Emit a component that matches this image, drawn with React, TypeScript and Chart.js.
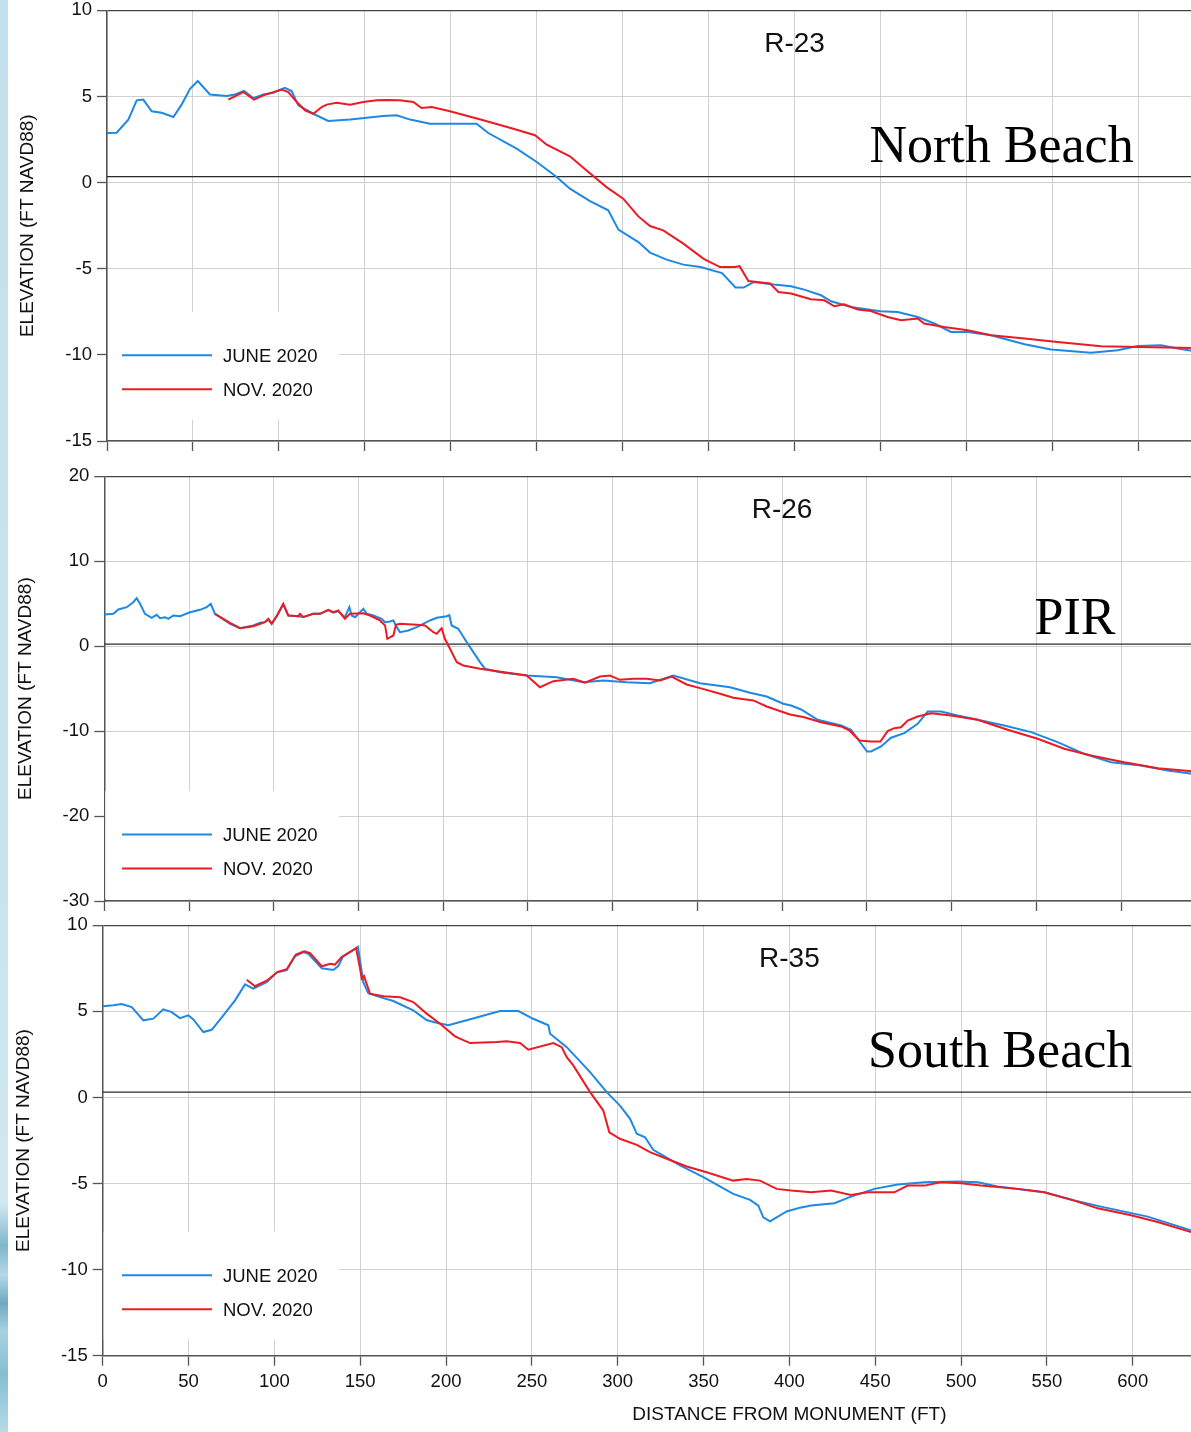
import React, { useEffect, useRef } from "react";
import { Chart, registerables } from "chart.js";

Chart.register(...registerables);

type Pt = [number, number];

// ---------- chart values ----------
const SERIES_LABELS = ["JUNE 2020", "NOV. 2020"];
const SERIES_COLORS = ["#1e88e5", "#ec1b23"];
const PROFILE_NAMES = ["R-23", "R-26", "R-35"];
const BEACH_NAMES = ["North Beach", "PIR", "South Beach"];
const REF_LEVELS = [0.35, 0.25, 0.31];
const Y_MIN = [-15, -30, -15];
const Y_MAX = [10, 20, 10];
const Y_STEP = [5, 10, 5];
const X_MIN = 0;
const X_MAX = 800;
const X_STEP = 50;
const NAME_AT = 400;
const Y_TITLE = "ELEVATION (FT NAVD88)";
const X_TITLE = "DISTANCE FROM MONUMENT (FT)";

const R23_JUNE: Pt[] = [
  [0, 2.88], [5.6, 2.9], [12.4, 3.66], [17.3, 4.78], [21.1, 4.82], [26, 4.14], [31.8, 4.06],
  [38.6, 3.81], [43.4, 4.53], [48.3, 5.45], [52.8, 5.9], [59.9, 5.12], [69.6, 5.03], [74.5, 5.12],
  [79.7, 5.32], [85.1, 4.91], [90.9, 5.12], [96.7, 5.22], [103.5, 5.51], [107.4, 5.32], [111.3, 4.49],
  [120, 4.0], [128.7, 3.58], [141.4, 3.67], [160.7, 3.87], [168.5, 3.91], [176.3, 3.66], [187.9, 3.42],
  [199.5, 3.42], [215, 3.42], [221.8, 2.88], [238.3, 1.97], [250, 1.2], [261.6, 0.33], [269.3, -0.35],
  [281, -1.07], [291.6, -1.61], [297.5, -2.73], [309.1, -3.45], [315.9, -4.06], [325.6, -4.47],
  [335.3, -4.76], [345.2, -4.9], [357.8, -5.25], [365.6, -6.09], [370.4, -6.09], [376.2, -5.77],
  [387.9, -5.92], [397.9, -6.02], [405.6, -6.21], [415.4, -6.54], [421.2, -6.89], [432.8, -7.22],
  [449.9, -7.47], [460, -7.51], [471.6, -7.8], [481.3, -8.18], [491, -8.67], [500.7, -8.67],
  [514.3, -8.86], [533.8, -9.38], [549.2, -9.69], [572.4, -9.87], [588, -9.73], [599.6, -9.48],
  [613.2, -9.44], [622.9, -9.63], [632, -9.78],
];
const R23_NOV: Pt[] = [
  [70.6, 4.82], [79.3, 5.26], [85.5, 4.82], [90.9, 5.07], [101.6, 5.4], [105.5, 5.26], [110.4, 4.68],
  [115.2, 4.2], [120, 4.0], [124.9, 4.39], [127.8, 4.53], [133.6, 4.64], [141.4, 4.53], [149.1, 4.68],
  [156.9, 4.78], [162.7, 4.8], [170.4, 4.78], [178.2, 4.68], [183, 4.33], [188.9, 4.39], [199.5, 4.14],
  [218.9, 3.62], [236.4, 3.13], [249, 2.75], [255.8, 2.2], [269.3, 1.53], [279, 0.71], [290.6, -0.26],
  [300.3, -0.93], [309.1, -1.96], [315.9, -2.52], [323.6, -2.77], [335.3, -3.54], [346.9, -4.41],
  [356.6, -4.9], [365.3, -4.9], [368, -4.85], [373.1, -5.71], [385.7, -5.86], [390.6, -6.35],
  [397.9, -6.44], [409.5, -6.77], [417.3, -6.83], [423.1, -7.18], [428.9, -7.06], [436.7, -7.37],
  [444.4, -7.45], [454.1, -7.8], [461.9, -7.99], [471.6, -7.89], [475.4, -8.18], [487, -8.38],
  [500.7, -8.57], [514.3, -8.86], [533.8, -9.05], [553, -9.25], [578.3, -9.5], [599.6, -9.54],
  [632, -9.6],
];
const R26_JUNE: Pt[] = [
  [0, 3.73], [5.3, 3.81], [8.3, 4.32], [13.2, 4.59], [17.1, 5.18], [19.1, 5.65], [21.1, 4.99],
  [24, 3.81], [28, 3.34], [30.9, 3.69], [32.9, 3.3], [35.8, 3.41], [37.8, 3.22], [40.7, 3.61],
  [44.7, 3.53], [50.6, 4.0], [56.5, 4.28], [60.4, 4.59], [62.8, 4.99], [65.3, 3.81], [74.2, 2.64],
  [80.1, 2.12], [87.9, 2.44], [91.9, 2.75], [94.8, 2.83], [96.8, 3.1], [98.8, 2.7], [101.7, 3.5],
  [105.6, 4.9], [108.6, 3.6], [114.5, 3.53], [117.4, 3.45], [123.3, 3.81], [127.3, 3.81],
  [132.2, 4.25], [135.1, 3.95], [138.1, 4.1], [142, 3.4], [144.6, 4.59], [146, 3.61], [148, 3.41],
  [152.9, 4.4], [154.9, 3.81], [158.8, 3.61], [163.7, 3.22], [165.7, 2.83], [168.6, 2.91],
  [170.6, 3.03], [172.6, 2.24], [174.5, 1.65], [179.4, 1.85], [184.4, 2.24], [192.2, 3.03],
  [196.2, 3.34], [202.1, 3.53], [203.6, 3.65], [205, 2.44], [208.9, 2.05], [213.9, 0.47],
  [221.7, -1.88], [224.7, -2.66], [233.5, -3.06], [249.3, -3.45], [267, -3.65], [282.7, -4.24],
  [294.5, -4.04], [308.3, -4.24], [322, -4.36], [335.8, -3.45], [351.6, -4.36], [369.3, -4.83],
  [381.1, -5.49], [390.9, -5.92], [400.7, -6.78], [405.3, -6.98], [411.2, -7.45], [421, -8.67],
  [434.8, -9.34], [440.7, -9.85], [444.6, -10.9], [450.1, -12.4], [452.5, -12.4], [458.4, -11.8],
  [464.3, -10.78], [472.1, -10.24], [480, -9.14], [485.9, -7.69], [493.8, -7.69], [503.6, -8.16],
  [515.4, -8.67], [531.1, -9.34], [547, -10.12], [562.6, -11.3], [578.3, -12.67], [594.1, -13.66],
  [611.8, -14.05], [627.5, -14.63], [642, -15.02],
];
const R26_NOV: Pt[] = [
  [65.3, 3.81], [74.2, 2.75], [80.1, 2.12], [87.9, 2.35], [94.8, 2.83], [96.8, 3.22], [98.8, 2.63],
  [101.7, 3.53], [105.6, 4.99], [108.6, 3.61], [114.5, 3.53], [115.5, 3.81], [117.4, 3.41],
  [123.3, 3.81], [127.3, 3.81], [132.2, 4.28], [135.1, 4.0], [138.1, 4.2], [142, 3.22], [145, 3.81],
  [152.9, 3.88], [156.8, 3.61], [162.7, 3.03], [165.7, 2.44], [167, 0.87], [170.6, 1.26],
  [172.1, 2.52], [174.5, 2.63], [184.4, 2.52], [189.3, 2.44], [194.2, 1.65], [196.2, 1.46],
  [199.1, 2.12], [201, 0.87], [204, -0.31], [208, -1.88], [211.9, -2.27], [221.7, -2.66],
  [249.3, -3.45], [257.1, -4.83], [265, -4.12], [276.8, -3.84], [283.7, -4.31], [292.5, -3.57],
  [298.4, -3.45], [304.3, -3.96], [312.2, -3.84], [320.1, -3.84], [328, -4.04], [334.8, -3.57],
  [343.7, -4.51], [351.6, -4.94], [363.4, -5.6], [371.2, -6.08], [383, -6.39], [390.9, -7.1],
  [404.7, -8.04], [413.1, -8.36], [423, -8.95], [434.8, -9.45], [439.7, -9.92], [445.6, -11.1],
  [452.5, -11.22], [458, -11.22], [462.3, -10.0], [466.2, -9.65], [470.2, -9.54], [474.1, -8.75],
  [480, -8.28], [487.9, -7.89], [499.7, -8.16], [515.4, -8.67], [533.1, -9.84], [550.8, -10.9],
  [566.5, -12.08], [582.3, -12.87], [601.9, -13.66], [621.7, -14.36], [642, -14.72],
];
const R35_JUNE: Pt[] = [
  [0, 5.3], [6.2, 5.35], [11.1, 5.43], [16.9, 5.25], [23.7, 4.48], [29.5, 4.58], [35.3, 5.12],
  [40.2, 4.96], [45, 4.61], [49.9, 4.77], [52.8, 4.53], [58.6, 3.8], [63.5, 3.93], [70.3, 4.77],
  [77.1, 5.64], [82.9, 6.57], [87.7, 6.32], [95.5, 6.7], [101.4, 7.25], [107.2, 7.4], [112, 8.2],
  [116.9, 8.45], [119.8, 8.35], [127.6, 7.5], [134.3, 7.4], [137.2, 7.63], [139.8, 8.16], [148, 8.68],
  [148.7, 8.74], [151.8, 6.7], [154.7, 6.05], [161.5, 5.83], [169.3, 5.6], [180.9, 5.06],
  [188.7, 4.5], [192.6, 4.38], [201.3, 4.19], [212, 4.48], [231.4, 5.02], [242.1, 5.02],
  [250.8, 4.57], [259.6, 4.19], [260.6, 3.7], [270.3, 2.92], [283.9, 1.47], [293.6, 0.31],
  [301.3, -0.47], [307.2, -1.24], [311.1, -2.11], [315.9, -2.31], [320.7, -3.04], [336.3, -3.95],
  [349.9, -4.63], [367.3, -5.6], [377.1, -5.95], [381.9, -6.28], [384.8, -6.96], [388.7, -7.19],
  [398.4, -6.62], [406.2, -6.4], [412.6, -6.28], [426.2, -6.14], [435.9, -5.76], [449.5, -5.31],
  [463.1, -5.06], [478.6, -4.92], [498, -4.88], [509.7, -4.92], [521.3, -5.17], [548.5, -5.51],
  [566, -5.99], [581.5, -6.34], [608.7, -6.92], [635, -7.75],
];
const R35_NOV: Pt[] = [
  [83.9, 6.84], [88.7, 6.46], [95.5, 6.78], [101.9, 7.3], [107.2, 7.45], [112.5, 8.3], [117.4, 8.49],
  [120.8, 8.38], [127.6, 7.62], [132.4, 7.77], [135.3, 7.72], [139.2, 8.16], [147.6, 8.68],
  [149.9, 7.48], [150.9, 6.9], [152.2, 7.05], [153.4, 6.7], [155.7, 6.03], [163.5, 5.88],
  [173.2, 5.82], [180.9, 5.54], [188.7, 4.87], [196.5, 4.28], [205.2, 3.55], [214, 3.16],
  [229.5, 3.22], [235.3, 3.27], [243.1, 3.16], [247.9, 2.77], [262.5, 3.16], [267.4, 2.92],
  [270.3, 2.34], [274.1, 1.86], [283.9, 0.31], [291.6, -0.76], [295.1, -2.02], [301.3, -2.4],
  [311.1, -2.75], [318.8, -3.18], [328.5, -3.56], [340.2, -4.01], [351.8, -4.34], [367.3, -4.83],
  [375.1, -4.73], [382.9, -4.83], [392.6, -5.31], [401, -5.41], [412.6, -5.51], [424.2, -5.41],
  [435.9, -5.66], [445.6, -5.51], [461.1, -5.51], [468.9, -5.12], [478.6, -5.12], [488.3, -4.92],
  [500, -4.98], [511.6, -5.12], [533, -5.31], [548.5, -5.51], [566, -5.99], [579.6, -6.44],
  [599, -6.84], [614.5, -7.23], [635, -7.85],
];

const JUNE = [R23_JUNE, R26_JUNE, R35_JUNE];
const NOV = [R23_NOV, R26_NOV, R35_NOV];

// ---------- layout (page pixels) ----------
const SANS = "'Liberation Sans', Arial, Helvetica, sans-serif";
const SERIF = "'Liberation Serif', 'Times New Roman', serif";
const PAGE_W = 1191;
const PAGE_H = 1432;

const LAYOUT = [
  { canvasTop: -10, canvasBottom: 462, left: 107, top: 10.4, bottom: 441, right: 1482.2, yTitleX: 27.5, legendTop: 129.3, overlayX: 869.4, overlayBaseline: 162, showX: false },
  { canvasTop: 455, canvasBottom: 925, left: 104.3, top: 476.3, bottom: 901, right: 1459.9, yTitleX: 25.8, legendTop: 110, overlayX: 1034.5, overlayBaseline: 634, showX: false },
  { canvasTop: 905, canvasBottom: 1432, left: 102.7, top: 925.3, bottom: 1355.7, right: 1476.1, yTitleX: 23.8, legendTop: 124, overlayX: 868, overlayBaseline: 1067.3, showX: true },
];

const LEGEND = { sampleX0: 122, sampleX1: 212, textX: 223, boxRight: 339, boxH: 108, row0: 43.5, rowGap: 34 };

function makeDecor(idx: number) {
  const L = LAYOUT[idx];
  return {
    id: "decor" + idx,
    beforeDatasetsDraw(chart: any) {
      const { ctx, chartArea } = chart;
      const top = chartArea.bottom - L.legendTop;
      const bottom = Math.min(top + LEGEND.boxH, chartArea.bottom - 1);
      ctx.save();
      ctx.fillStyle = "#ffffff";
      ctx.fillRect(chartArea.left + 1, top, LEGEND.boxRight - chartArea.left - 1, bottom - top);
      ctx.restore();
    },
    afterDraw(chart: any) {
      const { ctx, chartArea, scales } = chart;
      const top = chartArea.bottom - L.legendTop;
      ctx.save();
      SERIES_LABELS.forEach((text, i) => {
        const y = top + LEGEND.row0 + i * LEGEND.rowGap;
        ctx.strokeStyle = SERIES_COLORS[i];
        ctx.lineWidth = 2;
        ctx.beginPath();
        ctx.moveTo(LEGEND.sampleX0, y);
        ctx.lineTo(LEGEND.sampleX1, y);
        ctx.stroke();
        ctx.fillStyle = "#111";
        ctx.font = `18.5px ${SANS}`;
        ctx.textAlign = "left";
        ctx.textBaseline = "alphabetic";
        ctx.fillText(text, LEGEND.textX, y + 6.6);
      });
      ctx.fillStyle = "#111";
      ctx.font = `28px ${SANS}`;
      ctx.textAlign = "center";
      ctx.textBaseline = "alphabetic";
      ctx.fillText(PROFILE_NAMES[idx], scales.x.getPixelForValue(NAME_AT), chartArea.top + 42);
      ctx.fillStyle = "#000";
      ctx.font = `52px ${SERIF}`;
      ctx.textAlign = "left";
      ctx.fillText(BEACH_NAMES[idx], L.overlayX, L.overlayBaseline - L.canvasTop);
      ctx.restore();
    },
  };
}

function Panel({ idx }: { idx: number }) {
  const ref = useRef<HTMLCanvasElement | null>(null);
  const L = LAYOUT[idx];
  const width = Math.round(L.right) + 40;
  const height = L.canvasBottom - L.canvasTop;

  useEffect(() => {
    if (!ref.current) return;
    const yMax = Y_MAX[idx];
    const xHeight = height - (L.bottom - L.canvasTop);
    const chart = new Chart(ref.current, {
      type: "line",
      data: {
        datasets: [
          {
            label: SERIES_LABELS[1],
            data: NOV[idx].map(([x, y]) => ({ x, y })),
            borderColor: SERIES_COLORS[1],
            backgroundColor: SERIES_COLORS[1],
            borderWidth: 2,
            pointRadius: 0,
            tension: 0,
            order: 0,
          },
          {
            label: SERIES_LABELS[0],
            data: JUNE[idx].map(([x, y]) => ({ x, y })),
            borderColor: SERIES_COLORS[0],
            backgroundColor: SERIES_COLORS[0],
            borderWidth: 2,
            pointRadius: 0,
            tension: 0,
            order: 1,
          },
          {
            label: "",
            data: [
              { x: X_MIN, y: REF_LEVELS[idx] },
              { x: X_MAX, y: REF_LEVELS[idx] },
            ],
            borderColor: "#2a2a2a",
            borderWidth: 1.2,
            pointRadius: 0,
            order: 2,
          },
        ],
      },
      options: {
        animation: false,
        responsive: false,
        maintainAspectRatio: false,
        devicePixelRatio: 1,
        events: [],
        layout: {
          padding: { left: 0, top: L.top - L.canvasTop, right: width - L.right, bottom: 0 },
        },
        plugins: {
          legend: { display: false },
          tooltip: { enabled: false },
          title: { display: false },
        },
        scales: {
          x: {
            type: "linear",
            min: X_MIN,
            max: X_MAX,
            afterFit: (s: any) => {
              s.height = xHeight;
            },
            ticks: {
              display: L.showX,
              stepSize: X_STEP,
              autoSkip: false,
              maxRotation: 0,
              padding: 5,
              color: "#111",
              font: { family: SANS, size: 18.5 },
            },
            grid: {
              color: "#d0d0d0",
              lineWidth: 1,
              tickColor: "#555",
              tickLength: 10,
              tickWidth: 1.3,
            },
            border: { display: true, color: "#555", width: 1.6 },
            title: {
              display: L.showX,
              text: X_TITLE,
              color: "#111",
              font: { family: SANS, size: 19 },
              padding: { top: 0, bottom: 5.6 },
            },
          },
          y: {
            type: "linear",
            min: Y_MIN[idx],
            max: yMax,
            afterFit: (s: any) => {
              s.width = L.left;
            },
            ticks: {
              stepSize: Y_STEP[idx],
              padding: 5,
              color: "#111",
              font: { family: SANS, size: 18.5 },
            },
            grid: {
              color: (c: any) => (c.tick && c.tick.value === yMax ? "#444" : "#d0d0d0"),
              lineWidth: (c: any) => (c.tick && c.tick.value === yMax ? 1.3 : 1),
              tickColor: "#555",
              tickLength: 10,
              tickWidth: 1.3,
            },
            border: { display: true, color: "#555", width: 1.5 },
            title: {
              display: true,
              text: Y_TITLE,
              color: "#111",
              font: { family: SANS, size: 19 },
              padding: { top: L.yTitleX - 11.4, bottom: 0 },
            },
          },
        },
      },
      plugins: [makeDecor(idx)],
    } as any);
    return () => chart.destroy();
  }, [idx]);

  return (
    <canvas
      ref={ref}
      width={width}
      height={height}
      style={{ position: "absolute", left: 0, top: L.canvasTop, width, height, display: "block" }}
    />
  );
}

export default function App() {
  return (
    <div
      style={{
        position: "absolute",
        left: 0,
        top: 0,
        width: PAGE_W,
        height: PAGE_H,
        overflow: "hidden",
        background: "#ffffff",
      }}
    >
      <div
        style={{
          position: "absolute",
          left: 0,
          top: 0,
          width: 8,
          height: PAGE_H,
          background:
            "linear-gradient(to bottom, #c3e1ec 0%, #c8e3ed 60%, #d2e8f0 84%, #7fb6cc 87%, #b4d8e5 89%, #6fa9c2 91%, #a9d2e0 93%, #86bdd2 96%, #b7dae6 100%)",
        }}
      />
      {LAYOUT.map((_, i) => (
        <Panel key={i} idx={i} />
      ))}
    </div>
  );
}
